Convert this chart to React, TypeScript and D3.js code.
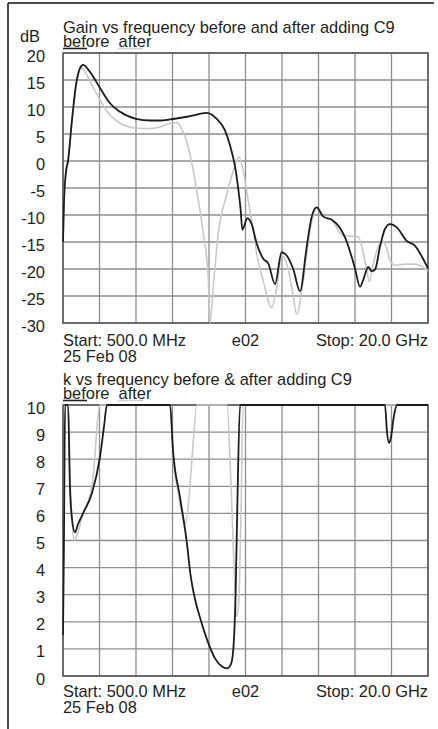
import React from "react";
import * as d3 from "d3";

// ---------- data (frequency in GHz, value) ----------
const xTickCount = 10;
const gainTicks = [20, 15, 10, 5, 0, -5, -10, -15, -20, -25, -30];
const kTicks = [10, 9, 8, 7, 6, 5, 4, 3, 2, 1, 0];

const gainBefore: [number, number][] = [
  [0.5, -15], [0.55, -8], [0.66, -2], [0.77, 0], [0.98, 7.6], [1.19, 14], [1.41, 17.2],
  [1.57, 17.8], [1.94, 16.5], [2.48, 13.5], [3.01, 10.7], [3.55, 9.1], [4.4, 7.8],
  [5.15, 7.5], [5.68, 7.5], [6.22, 7.7], [7.28, 8.3], [8.18, 8.9], [8.71, 7.8],
  [9.15, 5.7], [9.42, 2.9], [9.69, -1.0], [9.87, -5.3], [9.99, -9.0], [10.08, -12.7],
  [10.35, -10.6], [10.58, -11.7], [10.85, -15.3], [11.2, -18.1], [11.47, -19.0],
  [11.83, -22.8], [12.18, -16.9], [12.45, -17.5], [12.8, -20], [13.16, -24.1],
  [13.52, -15.9], [13.79, -10.3], [14.05, -8.6], [14.41, -10.3], [14.86, -10.9],
  [15.3, -12.4], [15.57, -14.2], [15.83, -16.7], [16.1, -19.9], [16.37, -23.3],
  [16.54, -22], [16.81, -19.6], [16.99, -20.4], [17.17, -20.1], [17.44, -15.8],
  [17.7, -12.6], [17.97, -11.7], [18.33, -12.3], [18.86, -14.8], [19.31, -15.7],
  [19.75, -18.2], [20.0, -19.9],
];

const gainAfter: [number, number][] = [
  [0.5, -15], [0.55, -8], [0.66, -2], [0.77, 0], [0.98, 7.3], [1.19, 13.5], [1.46, 17.3],
  [1.68, 16.5], [2.05, 14], [2.48, 11.3], [3.01, 8.5], [3.55, 7.0], [4.4, 6.1],
  [5.15, 6.0], [5.68, 6.3], [6.22, 7.0], [6.58, 7.1], [6.93, 5.3], [7.28, 1.3],
  [7.64, -5.4], [8.0, -13.5], [8.26, -21.6], [8.35, -31], [8.53, -23.1], [8.8, -13.3],
  [9.25, -6.2], [9.6, -1.8], [9.9, 0.7], [10.13, -1.8], [10.4, -7.4], [10.67, -13.0],
  [10.85, -17.2], [11.2, -22.2], [11.65, -27.2], [11.92, -23.5], [12.18, -17.5],
  [12.45, -19], [12.8, -25.0], [12.98, -28.4], [13.34, -22], [13.7, -12.8],
  [14.05, -8.7], [14.41, -10.3], [14.86, -10.9], [15.39, -13.7], [15.67, -13.9],
  [16.26, -14], [16.54, -17.0], [16.73, -20.2], [16.86, -22.3], [17.08, -19],
  [17.33, -16], [17.54, -14.8], [17.76, -15.8], [17.97, -18.4], [18.24, -19.3],
  [18.77, -19.1], [19.31, -19.1], [19.73, -19.6], [20.0, -20.4],
];

const kBefore: [number, number][] = [
  [0.5, 1.5], [0.55, 5], [0.61, 10], [0.69, 11], [0.77, 10], [0.87, 7], [0.98, 5.8],
  [1.14, 5.3], [1.3, 5.6], [1.57, 6.0], [2.05, 6.75], [2.48, 8.1], [2.69, 9.2],
  [2.85, 10], [4.61, 12], [6.22, 10], [6.38, 8.3], [6.75, 6.6], [7.12, 4.9],
  [7.3, 3.8], [7.5, 3.0], [7.8, 2.2], [8.19, 1.35], [8.62, 0.65], [8.99, 0.35],
  [9.26, 0.28], [9.48, 0.45], [9.61, 1.1], [9.72, 3], [9.82, 6.5], [9.96, 10],
  [13.7, 12], [17.7, 10], [17.81, 9.0], [17.92, 8.6], [18.02, 8.8], [18.18, 9.6],
  [18.34, 10], [20.0, 12],
];

const kAfter: [number, number][] = [
  [0.5, 1.5], [0.55, 6], [0.63, 10], [0.71, 10.5], [0.79, 10], [0.87, 7.5], [0.98, 5.8],
  [1.09, 5.0], [1.25, 5.2], [1.57, 6.0], [2.05, 7.0], [2.48, 10], [4.35, 12],
  [6.22, 10], [6.38, 8.1], [6.64, 6.8], [6.85, 6.0], [7.02, 5.6], [7.18, 6.2],
  [7.39, 8], [7.66, 10], [8.46, 11], [9.26, 10], [9.48, 7], [9.64, 4], [9.77, 2.2],
  [9.88, 2.6], [10.01, 6], [10.12, 10], [20.0, 12],
];

// ---------- layout ----------
const W = 438;
const H = 729;
const PL = 63;
const PR = 428;
const FONT = "'Liberation Sans', Arial, sans-serif";
const FS = 16.4;
const TEXT = "#1e1e1e";

type PanelProps = {
  id: string;
  top: number;
  bottom: number;
  domain: [number, number];
  ticks: number[];
  title: string;
  titleY: number;
  legendY: number;
  footY: number;
  before: [number, number][];
  after: [number, number][];
  unit?: string;
};

function Panel(p: PanelProps) {
  const x = d3.scaleLinear().domain([0.5, 20]).range([PL, PR]);
  const y = d3.scaleLinear().domain(p.domain).range([p.bottom, p.top]).clamp(true);
  const line = d3
    .line<[number, number]>()
    .x((d) => x(d[0]))
    .y((d) => y(d[1]))
    .curve(d3.curveMonotoneX);
  const xGrid = d3.range(xTickCount + 1).map((i) => 0.5 + (i * 19.5) / xTickCount);
  return (
    <g>
      <defs>
        <clipPath id={p.id}>
          <rect x={PL - 1} y={p.top - 2} width={PR - PL + 2} height={p.bottom - p.top + 4} />
        </clipPath>
      </defs>
      <text x={PL} y={p.titleY} fontSize={FS} fill={TEXT} fontFamily={FONT}>
        {p.title}
      </text>
      <text x={PL} y={p.legendY} fontSize={FS} fill={TEXT} fontFamily={FONT} xmlSpace="preserve">
        before  after
      </text>
      <line x1={PL} x2={PL + 24} y1={p.legendY + 2} y2={p.legendY + 2} stroke="#222" strokeWidth={1.6} />
      <line x1={PL + 55} x2={PL + 80} y1={p.legendY + 2} y2={p.legendY + 2} stroke="#d2d2d2" strokeWidth={1.6} />
      {p.unit && (
        <text x={20} y={p.top - 11} fontSize={FS} fill={TEXT} fontFamily={FONT}>
          {p.unit}
        </text>
      )}
      {p.ticks.map((t) => (
        <g key={"h" + t}>
          <line x1={PL} x2={PR} y1={y(t)} y2={y(t)} stroke="#8e8e8e" strokeWidth={1.3} />
          <text x={45} y={y(t) + 8.5} fontSize={FS} fill={TEXT} fontFamily={FONT} textAnchor="end">
            {t}
          </text>
        </g>
      ))}
      {xGrid.map((f, i) => (
        <line key={"v" + i} x1={x(f)} x2={x(f)} y1={p.top} y2={p.bottom} stroke="#8e8e8e" strokeWidth={1.3} />
      ))}
      <rect x={PL} y={p.top} width={PR - PL} height={p.bottom - p.top} fill="none" stroke="#555" strokeWidth={1.5} />
      <g clipPath={`url(#${p.id})`}>
        <path d={line(p.after) || ""} fill="none" stroke="#c9c9c9" strokeWidth={1.6} />
        <path d={line(p.before) || ""} fill="none" stroke="#1c1c1c" strokeWidth={1.8} />
      </g>
      <text x={PL} y={p.footY} fontSize={FS} fill={TEXT} fontFamily={FONT}>
        Start: 500.0 MHz
      </text>
      <text x={PL} y={p.footY + 16} fontSize={FS} fill={TEXT} fontFamily={FONT}>
        25 Feb 08
      </text>
      <text x={x(10.25)} y={p.footY} fontSize={FS} fill={TEXT} fontFamily={FONT} textAnchor="middle">
        e02
      </text>
      <text x={PR} y={p.footY} fontSize={FS} fill={TEXT} fontFamily={FONT} textAnchor="end">
        Stop: 20.0 GHz
      </text>
    </g>
  );
}

export default function App() {
  return (
    <svg
      width={W}
      height={H}
      style={{ position: "absolute", left: 0, top: 0, background: "#fff" }}
    >
      <rect x={0} y={0} width={W} height={H} fill="#fff" />
      <line x1={8} x2={8} y1={3} y2={H} stroke="#111" strokeWidth={1.5} />
      <line x1={8} x2={434} y1={3} y2={3} stroke="#111" strokeWidth={1.5} />
      <Panel
        id="clipGain"
        top={53}
        bottom={323}
        domain={[-30, 20]}
        ticks={gainTicks}
        title="Gain vs frequency before and after adding C9"
        titleY={33}
        legendY={46.5}
        footY={346}
        before={gainBefore}
        after={gainAfter}
        unit="dB"
      />
      <Panel
        id="clipK"
        top={405}
        bottom={676}
        domain={[0, 10]}
        ticks={kTicks}
        title="k vs frequency before & after adding C9"
        titleY={384.5}
        legendY={398.5}
        footY={697}
        before={kBefore}
        after={kAfter}
      />
    </svg>
  );
}
